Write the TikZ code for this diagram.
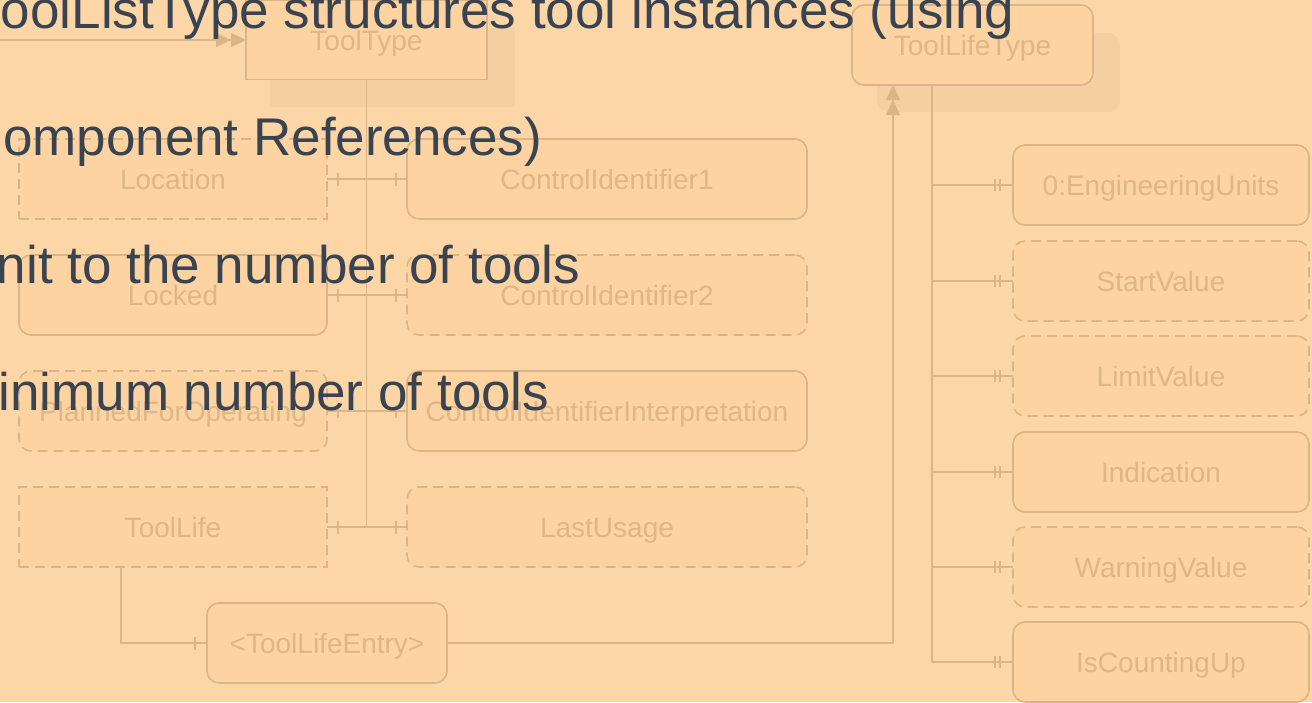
\documentclass[tikz,border=0pt]{standalone}
\usepackage{fontspec}
\setmainfont{Liberation Sans}
\usetikzlibrary{arrows.meta}
\definecolor{bg}{RGB}{253,214,167}
\definecolor{boxfill}{RGB}{252,211,161}
\definecolor{ln}{RGB}{219,181,133}
\definecolor{ftext}{RGB}{221,183,136}
\definecolor{shadowc}{RGB}{245,207,161}
\definecolor{dark}{RGB}{58,67,80}
\begin{document}
\begin{tikzpicture}[x=1pt,y=-1pt,
  every node/.style={inner sep=0pt, outer sep=0pt},
  box/.style={draw=ln, fill=boxfill, line width=1.6pt, text=ftext, font=\fontsize{28}{30}\selectfont, text height=20pt, text depth=0pt, minimum height=80pt},
  rbox/.style={box, rounded corners=12pt},
  dbox/.style={dash pattern=on 10pt off 6pt},
  conn/.style={draw=ln, line width=1.6pt},
  tips/.style={-{Triangle[length=15pt,width=14pt]Triangle[length=15pt,width=14pt]}},
  big/.style={text=dark, font=\fontsize{53}{60}\selectfont, anchor=base west}]
\useasboundingbox (0,0) rectangle (1312,702);
\fill[bg] (0,0) rectangle (1312,702);
% shadows
\fill[shadowc] (270,28) rectangle (515,107);
\fill[shadowc, rounded corners=12pt] (877,33) rectangle (1120,112);
% top nodes
\node[box, minimum width=241pt, minimum height=79pt] (tooltype) at (366.5,40) {ToolType};
\node[rbox, minimum width=241pt] (toollifetype) at (972.5,45) {ToolLifeType};
% left column
\node[box, dbox, minimum width=308pt] (location) at (173,179) {Location};
\node[rbox, minimum width=308pt] (locked) at (173,295) {Locked};
\node[rbox, dbox, minimum width=308pt] (planned) at (173,411) {PlannedForOperating};
\node[box, dbox, minimum width=308pt] (toollife) at (173,527) {ToolLife};
% middle column
\node[rbox, minimum width=400pt] (ci1) at (607,179) {ControlIdentifier1};
\node[rbox, dbox, minimum width=400pt] (ci2) at (607,295) {ControlIdentifier2};
\node[rbox, minimum width=400pt] (cii) at (607,411) {ControlIdentifierInterpretation};
\node[rbox, dbox, minimum width=400pt] (lastusage) at (607,527) {LastUsage};
% entry
\node[rbox, minimum width=240pt] (entry) at (327,643) {<ToolLifeEntry>};
% right column
\node[rbox, minimum width=296pt] (eu) at (1161,185) {0:EngineeringUnits};
\node[rbox, dbox, minimum width=296pt] (start) at (1161,281) {StartValue};
\node[rbox, dbox, minimum width=296pt] (limit) at (1161,376) {LimitValue};
\node[rbox, minimum width=296pt] (indication) at (1161,472) {Indication};
\node[rbox, dbox, minimum width=296pt] (warning) at (1161,567) {WarningValue};
\node[rbox, minimum width=296pt] (counting) at (1161,662) {IsCountingUp};
% connectors left/middle
\draw[conn] (tooltype.south) -- (tooltype.south |- toollife.east);
\foreach \a/\b in {location/ci1, locked/ci2, planned/cii, toollife/lastusage} {
  \draw[conn] (\a.east) -- (\b.west);
  \draw[conn] ([xshift=11pt]\a.east) ++(0,-6.5) -- ++(0,13);
  \draw[conn] ([xshift=-11pt]\b.west) ++(0,-6.5) -- ++(0,13);
}
% right trunk
\coordinate (trunkR) at ([xshift=-40.5pt]toollifetype.south);
\draw[conn] (trunkR) -- (trunkR |- counting.west);
\foreach \n in {eu,start,limit,indication,warning,counting} {
  \draw[conn] (trunkR |- \n.west) -- (\n.west);
  \draw[conn] ([xshift=-13pt]\n.west) ++(0,-6) -- ++(0,12);
  \draw[conn] ([xshift=-18pt]\n.west) ++(0,-6) -- ++(0,12);
}
% ToolLife to entry
\coordinate (tlx) at ([xshift=-52pt]toollife.south);
\draw[conn] (tlx) |- (entry.west);
\draw[conn] ([xshift=-12pt]entry.west) ++(0,-6.5) -- ++(0,13);
% entry to ToolLifeType
\coordinate (arrR) at ([xshift=-79.5pt]toollifetype.south);
\draw[conn, tips] (entry.east) -| (arrR);
% incoming arrow to ToolType
\coordinate (inL) at (0,40);
\draw[conn, tips] (inL) -- (tooltype.west);
% overlay text
\node[big] (t1) at (1,28) {oolListType structures tool instances (using};
\node[big] (t2) at (3,155) {omponent References)};
\node[big] (t3) at (-3,283) {nit to the number of tools};
\node[big] (t4) at (-1.5,410) {inimum number of tools};
\end{tikzpicture}
\end{document}
